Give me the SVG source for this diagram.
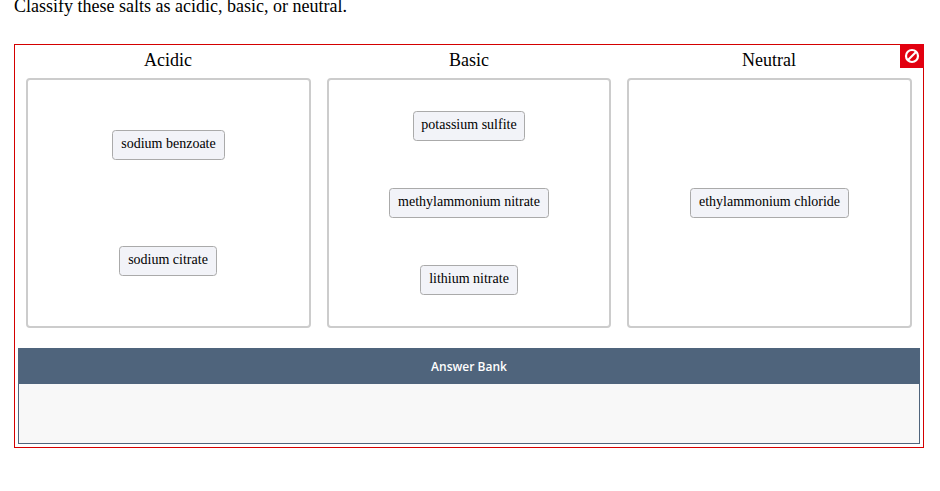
<svg xmlns="http://www.w3.org/2000/svg" width="940" height="491" viewBox="0 0 940 491">
<style>
text{font-family:"Liberation Serif","Times New Roman",serif;fill:#000}
.h{font-size:18px;text-anchor:middle}
.zone{fill:#fff;stroke:#ccc;stroke-width:2}
.chip rect{fill:#f2f3f8;stroke:#aaa;stroke-width:1}
.chip text{font-size:14px;text-anchor:middle}
</style>
<rect width="940" height="491" fill="#fff"/>
<text x="14" y="12" font-size="18">Classify these salts as acidic, basic, or neutral.</text>
<rect id="frame" x="14.500" y="44.500" width="909" height="403" fill="#fff" stroke="#d40000"/>
<g id="block"><rect x="900" y="44" width="24" height="24" fill="#e2000f"/>
<circle cx="912" cy="56" r="6" fill="none" stroke="#fff" stroke-width="2.200"/><path d="M908 60L916 52" stroke="#fff" stroke-width="2.200"/></g>
<g id="zone-acidic"><text class="h" x="168" y="66">Acidic</text><rect class="zone" x="27" y="79" width="283" height="248" rx="3"/></g>
<g id="zone-basic"><text class="h" x="469" y="66">Basic</text><rect class="zone" x="328" y="79" width="282" height="248" rx="3"/></g>
<g id="zone-neutral"><text class="h" x="769" y="66">Neutral</text><rect class="zone" x="628" y="79" width="283" height="248" rx="3"/></g>
<g id="chip-sodium-benzoate" class="chip"><rect x="112.500" y="130.500" width="112" height="29" rx="3"/><text x="168.500" y="148">sodium benzoate</text></g>
<g id="chip-sodium-citrate" class="chip"><rect x="119.500" y="246.500" width="97" height="29" rx="3"/><text x="168" y="264">sodium citrate</text></g>
<g id="chip-potassium-sulfite" class="chip"><rect x="413.500" y="111.500" width="111" height="29" rx="3"/><text x="469" y="129">potassium sulfite</text></g>
<g id="chip-methylammonium-nitrate" class="chip"><rect x="389.500" y="188.500" width="159" height="29" rx="3"/><text x="469" y="206">methylammonium nitrate</text></g>
<g id="chip-lithium-nitrate" class="chip"><rect x="420.500" y="265.500" width="97" height="29" rx="3"/><text x="469" y="283">lithium nitrate</text></g>
<g id="chip-ethylammonium-chloride" class="chip"><rect x="690.500" y="188.500" width="158" height="29" rx="3"/><text x="769.500" y="206">ethylammonium chloride</text></g>
<g id="answer-bank"><rect x="18.500" y="383.500" width="901" height="60" fill="#f8f8f8" stroke="#4f647c"/>
<rect x="18" y="348" width="902" height="36" fill="#4f647c"/>
<text x="469" y="371" font-size="12" text-anchor="middle" style="font-family:'Open Sans',sans-serif;fill:#fff;font-weight:600">Answer Bank</text></g>
<g id="connectors"/>
</svg>
